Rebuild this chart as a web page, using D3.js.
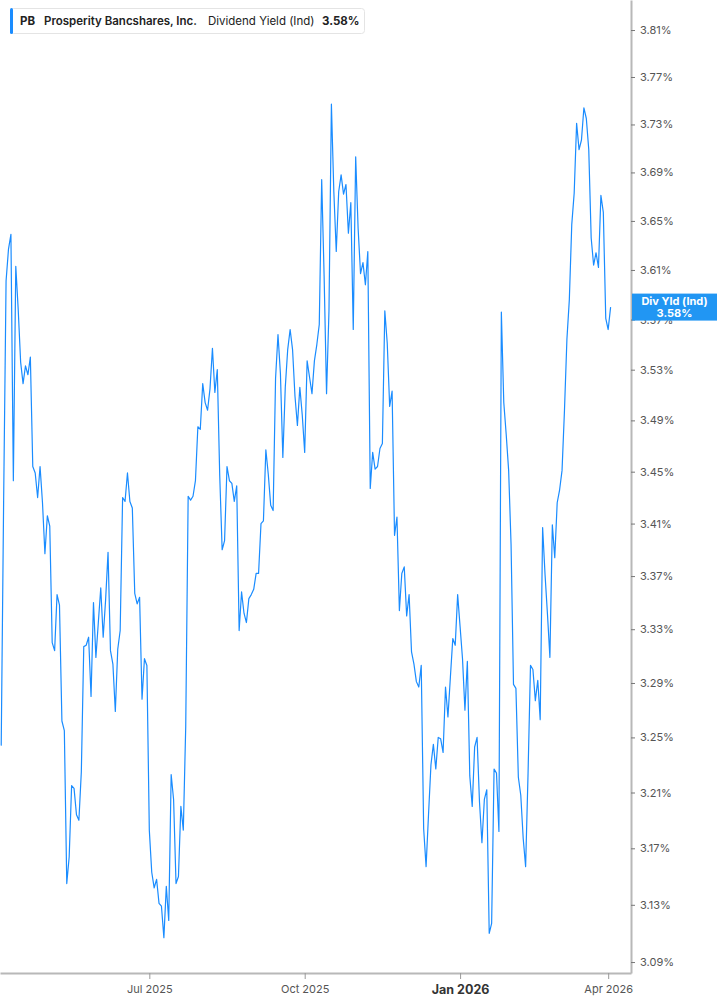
<!DOCTYPE html>
<html>
<head>
<meta charset="utf-8">
<script src="https://cdn.jsdelivr.net/npm/d3@7"></script>
<style>
  html, body { margin: 0; padding: 0; background: #ffffff; }
  svg { display: block; font-family: Inter, "Noto Sans", sans-serif; }
</style>
</head>
<body>
<svg id="chart" width="717" height="1005"></svg>
<script>
// ---------- data ----------
const seriesStart = "2025-04-02";
const seriesEnd = "2026-04-02";
const marketHolidays = ["2025-04-18","2025-05-26","2025-06-19","2025-07-04","2025-09-01",
  "2025-11-27","2025-12-25","2026-01-01","2026-01-19","2026-02-16"];

const yieldValues = [
  3.244, 3.428, 3.601, 3.627, 3.639, 3.443, 3.613, 3.578, 3.536, 3.519,
  3.533, 3.526, 3.540, 3.454, 3.449, 3.430, 3.454, 3.426, 3.387, 3.416,
  3.408, 3.320, 3.314, 3.356, 3.348, 3.262, 3.255, 3.145, 3.164, 3.215,
  3.213, 3.194, 3.190, 3.225, 3.317, 3.318, 3.324, 3.280, 3.350, 3.309,
  3.335, 3.361, 3.324, 3.352, 3.388, 3.314, 3.304, 3.269, 3.315, 3.329,
  3.430, 3.427, 3.449, 3.427, 3.422, 3.357, 3.349, 3.354, 3.278, 3.308,
  3.303, 3.183, 3.153, 3.142, 3.148, 3.131, 3.129, 3.107, 3.143, 3.119,
  3.223, 3.205, 3.145, 3.150, 3.200, 3.183, 3.258, 3.431, 3.428, 3.431,
  3.443, 3.485, 3.483, 3.519, 3.504, 3.498, 3.515, 3.547, 3.512, 3.530,
  3.447, 3.390, 3.397, 3.454, 3.443, 3.441, 3.427, 3.439, 3.329, 3.358,
  3.342, 3.335, 3.353, 3.356, 3.360, 3.372, 3.372, 3.410, 3.412, 3.467,
  3.448, 3.424, 3.420, 3.523, 3.558, 3.527, 3.461, 3.516, 3.546, 3.562,
  3.546, 3.509, 3.486, 3.516, 3.494, 3.465, 3.537, 3.524, 3.511, 3.537,
  3.550, 3.566, 3.684, 3.605, 3.511, 3.577, 3.747, 3.674, 3.625, 3.674,
  3.688, 3.672, 3.680, 3.640, 3.665, 3.562, 3.703, 3.644, 3.607, 3.616,
  3.598, 3.625, 3.437, 3.465, 3.452, 3.454, 3.468, 3.472, 3.577, 3.551,
  3.501, 3.513, 3.401, 3.415, 3.344, 3.372, 3.377, 3.340, 3.356, 3.313,
  3.304, 3.291, 3.287, 3.303, 3.184, 3.157, 3.194, 3.230, 3.245, 3.227,
  3.250, 3.249, 3.239, 3.287, 3.265, 3.294, 3.323, 3.318, 3.356, 3.332,
  3.308, 3.270, 3.306, 3.222, 3.200, 3.243, 3.250, 3.203, 3.174, 3.205,
  3.212, 3.110, 3.117, 3.227, 3.224, 3.182, 3.576, 3.504, 3.479, 3.451,
  3.394, 3.289, 3.286, 3.221, 3.208, 3.177, 3.157, 3.224, 3.303, 3.300,
  3.277, 3.292, 3.263, 3.407, 3.371, 3.341, 3.309, 3.409, 3.384, 3.426,
  3.436, 3.451, 3.498, 3.554, 3.586, 3.647, 3.673, 3.731, 3.709, 3.717,
  3.744, 3.735, 3.709, 3.636, 3.614, 3.624, 3.612, 3.671, 3.657, 3.571,
  3.562, 3.580
];

const yTickValues = [3.09, 3.13, 3.17, 3.21, 3.25, 3.29, 3.33, 3.37, 3.41, 3.45,
  3.49, 3.53, 3.57, 3.61, 3.65, 3.69, 3.73, 3.77, 3.81];
const xTickDates = ["2025-07-01", "2025-10-01", "2026-01-02", "2026-04-01"];
const xTickLabels = ["Jul 2025", "Oct 2025", "Jan 2026", "Apr 2026"];
const boldXTick = "Jan 2026";

const ticker = "PB";
const companyName = "Prosperity Bancshares, Inc.";
const metricName = "Dividend Yield (Ind)";
const tagLabel = "Div Yld (Ind)";

// ---------- trading calendar (weekdays minus market holidays) ----------
const fmt = d3.utcFormat("%Y-%m-%d");
const parse = d3.utcParse("%Y-%m-%d");
const tradingDays = [];
for (let d = parse(seriesStart); d <= parse(seriesEnd); d = d3.utcDay.offset(d, 1)) {
  const wd = d.getUTCDay();
  const s = fmt(d);
  if (wd !== 0 && wd !== 6 && !marketHolidays.includes(s)) tradingDays.push(s);
}
const data = yieldValues.map((v, i) => ({ date: tradingDays[i], idx: i, value: v }));

// ---------- layout ----------
const W = 717, H = 1005;
const plotRight = 631, plotBottom = 973;
const svg = d3.select("#chart");

const x = d3.scaleLinear().domain([-0.5, 259.4]).range([0, plotRight]);
const y = d3.scaleLog().domain([3.0824, 3.8358]).range([plotBottom, 0]);

svg.append("rect").attr("width", W).attr("height", H).attr("fill", "#ffffff");

svg.append("clipPath").attr("id", "plotclip")
  .append("rect").attr("x", 0).attr("y", 0).attr("width", plotRight).attr("height", plotBottom);

// line
const line = d3.line().x(d => x(d.idx)).y(d => y(d.value));
svg.append("path")
  .datum(data)
  .attr("clip-path", "url(#plotclip)")
  .attr("fill", "none")
  .attr("stroke", "#1a8cff")
  .attr("stroke-width", 1.2)
  .attr("stroke-linejoin", "round")
  .attr("d", line);

// y axis (right)
const yAxis = d3.axisRight(y)
  .tickValues(yTickValues)
  .tickFormat(d => d.toFixed(2) + "%")
  .tickSize(4)
  .tickSizeOuter(0)
  .tickPadding(5);
const gy = svg.append("g").attr("transform", `translate(${plotRight},0)`).call(yAxis);
gy.select(".domain").attr("stroke", "#b8b8b8").attr("stroke-width", 2);
gy.selectAll(".tick line").attr("stroke", "#777").attr("stroke-width", 1);
gy.selectAll(".tick text")
  .attr("fill", "#555")
  .style("font-family", "Inter, 'Noto Sans', sans-serif")
  .style("font-size", "11px");

// x axis (bottom)
const xTickIdx = xTickDates.map(s => tradingDays.indexOf(s));
const xAxis = d3.axisBottom(x)
  .tickValues(xTickIdx)
  .tickFormat((d, i) => xTickLabels[i])
  .tickSize(6)
  .tickSizeOuter(0)
  .tickPadding(6);
const gx = svg.append("g").attr("transform", `translate(0,${plotBottom})`).call(xAxis);
gx.select(".domain").attr("stroke", "#b8b8b8").attr("stroke-width", 2);
gx.selectAll(".tick line").attr("stroke", "#999");
gx.selectAll(".tick text")
  .attr("fill", "#555")
  .style("font-family", "Inter, 'Noto Sans', sans-serif")
  .style("font-size", "11px")
  .each(function(d, i) {
    if (xTickLabels[i] === boldXTick) {
      d3.select(this).style("font-weight", "700").style("font-size", "12.5px").attr("fill", "#333");
    }
  });

// last value tag on y axis (covers the neighbouring tick label, as in the original)
const last = data[data.length - 1];
const ty = y(last.value);
const tag = svg.append("g");
tag.append("rect")
  .attr("x", plotRight + 1).attr("y", ty - 13.5)
  .attr("width", W - plotRight - 1).attr("height", 27)
  .attr("fill", "#2196f3");
tag.append("text")
  .attr("x", (plotRight + 1 + W) / 2).attr("y", ty - 2.5)
  .attr("text-anchor", "middle")
  .attr("fill", "#fff").style("font-size", "11px").style("font-weight", "700")
  .text(tagLabel);
tag.append("text")
  .attr("x", (plotRight + 1 + W) / 2).attr("y", ty + 10)
  .attr("text-anchor", "middle")
  .attr("fill", "#fff").style("font-size", "11px").style("font-weight", "700")
  .text(last.value.toFixed(2) + "%");

// legend
const lg = svg.append("g");
lg.append("rect")
  .attr("x", 10.5).attr("y", 8.5).attr("width", 354).attr("height", 25)
  .attr("rx", 3).attr("fill", "#ffffff").attr("stroke", "#e4e4e4");
lg.append("rect")
  .attr("x", 10).attr("y", 8).attr("width", 3).attr("height", 26)
  .attr("rx", 1.5).attr("fill", "#1a8cff");
const legendY = 25;
lg.append("text").attr("x", 20).attr("y", legendY).attr("fill", "#222")
  .style("font-size", "11.5px").style("font-weight", "700").text(ticker);
lg.append("text").attr("x", 44).attr("y", legendY).attr("fill", "#222")
  .style("font-size", "11.5px").style("font-weight", "600").text(companyName);
lg.append("text").attr("x", 208).attr("y", legendY).attr("fill", "#222")
  .style("font-size", "11.5px").style("font-weight", "400").text(metricName);
lg.append("text").attr("x", 322).attr("y", legendY).attr("fill", "#222")
  .style("font-size", "11.5px").style("font-weight", "700").text(last.value.toFixed(2) + "%");
</script>
</body>
</html>
